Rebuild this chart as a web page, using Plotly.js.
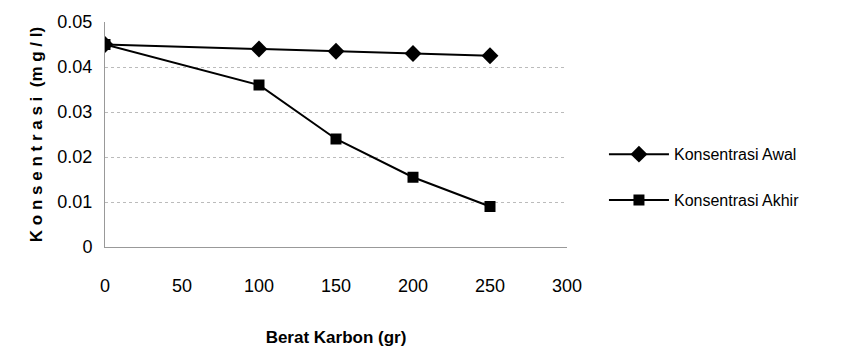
<!DOCTYPE html>
<html><head><meta charset="utf-8">
<script src="https://cdn.plot.ly/plotly-3.0.1.min.js"></script>
<style>html,body{margin:0;padding:0;background:#fff}#c{width:847px;height:354px}</style>
</head><body><div id="c"></div>
<script>
const beratKarbon = [0, 100, 150, 200, 250];
const konsAwal = [0.045, 0.044, 0.0435, 0.043, 0.0425];
const konsAkhir = [0.045, 0.036, 0.024, 0.0155, 0.009];
const seriesNames = ["Konsentrasi Awal", "Konsentrasi Akhir"];
const xTicks = [0, 50, 100, 150, 200, 250, 300];
const yTicks = [0, 0.01, 0.02, 0.03, 0.04, 0.05];
const yTickText = ["0", "0.01", "0.02", "0.03", "0.04", "0.05"];

const F = "'Liberation Sans', Arial, sans-serif";
const traces = [
  {x: beratKarbon, y: konsAwal, name: seriesNames[0], legendgroup: 'a', type: 'scatter', mode: 'lines+markers',
   line: {color: '#000', width: 2}, marker: {symbol: 'diamond', size: 13, color: '#000'}},
  {x: beratKarbon, y: konsAkhir, name: seriesNames[1], legendgroup: 'b', type: 'scatter', mode: 'lines+markers',
   line: {color: '#000', width: 2}, marker: {symbol: 'square', size: 11, color: '#000'}}
];
const layout = {
  width: 847, height: 354,
  margin: {l: 105, r: 280, t: 22, b: 107},
  paper_bgcolor: '#fff', plot_bgcolor: '#fff',
  font: {family: F, color: '#000', size: 16},
  showlegend: true,
  legend: {x: 1.08, y: 0.31, xanchor: 'left', yanchor: 'middle', font: {size: 16, family: F},
           traceorder: 'grouped', tracegroupgap: 22, itemwidth: 60, bgcolor: 'rgba(0,0,0,0)'},
  xaxis: {range: [0, 300], tickvals: xTicks, ticktext: xTicks.map(String), ticks: '',
          showgrid: false, zeroline: false, showline: true, linecolor: '#999', linewidth: 1,
          ticklabelstandoff: 22, tickfont: {size: 18, family: F},
          title: {text: '<b>Berat Karbon (gr)</b>', font: {size: 17, family: F}, standoff: 36}},
  yaxis: {range: [0, 0.05], tickvals: yTicks, ticktext: yTickText, ticks: '',
          showgrid: true, gridcolor: '#bbb', griddash: 'dot', gridwidth: 1,
          zeroline: false, showline: true, linecolor: '#999', linewidth: 1,
          ticklabelstandoff: 8, tickfont: {size: 18, family: F},
          title: {text: '<b>K o n s e n t r a s i  (m g / l)</b>', font: {size: 17, family: F}, standoff: 10}}
};
Plotly.newPlot('c', traces, layout, {staticPlot: true});
</script></body></html>
